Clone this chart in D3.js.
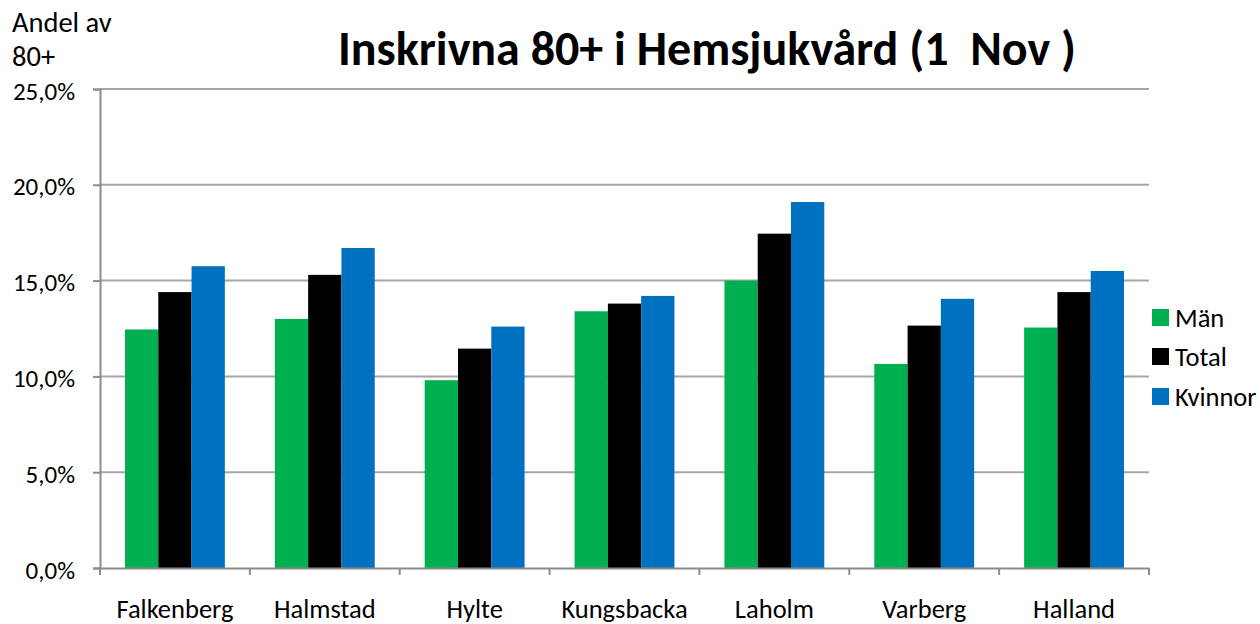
<!DOCTYPE html>
<html>
<head>
<meta charset="utf-8">
<script src="https://cdn.jsdelivr.net/npm/d3@7"></script>
<style>
  body { margin: 0; background: #fff; }
  text { font-family: Carlito, "Open Sans", "Liberation Sans", sans-serif; fill: #000; }
</style>
</head>
<body>
<script>
var categories = ["Falkenberg", "Halmstad", "Hylte", "Kungsbacka", "Laholm", "Varberg", "Halland"];
var seriesNames = ["Män", "Total", "Kvinnor"];
var man = [12.45, 13.0, 9.8, 13.4, 15.0, 10.65, 12.55];
var total = [14.4, 15.3, 11.45, 13.8, 17.45, 12.65, 14.4];
var kvinnor = [15.75, 16.7, 12.6, 14.2, 19.1, 14.05, 15.5];
var yTicks = [0, 5, 10, 15, 20, 25];
var colors = ["#00b050", "#000000", "#0070c0"];

var margin = {top: 89, left: 100},
    width = 1049,
    height = 479;

var svg = d3.select("body").append("svg")
    .attr("width", 1260)
    .attr("height", 624);

var g = svg.append("g")
    .attr("transform", "translate(" + margin.left + "," + margin.top + ")");

var x = d3.scaleBand().domain(categories).range([0, width]).paddingInner(0).paddingOuter(0);
var xs = d3.scaleBand().domain(seriesNames).range([25, x.bandwidth() - 25]);
var y = d3.scaleLinear().domain([0, 25]).range([height, 0]);

// gridlines
g.selectAll(".grid")
  .data(yTicks.filter(function(d) { return d > 0; }))
  .enter().append("line")
    .attr("x1", 0).attr("x2", width)
    .attr("y1", function(d) { return y(d); })
    .attr("y2", function(d) { return y(d); })
    .attr("stroke", "#a6a6a6")
    .attr("stroke-width", 2);

// bars
var data = categories.map(function(c, i) {
  return {cat: c, vals: [man[i], total[i], kvinnor[i]]};
});
var grp = g.selectAll(".grp").data(data).enter().append("g")
    .attr("transform", function(d) { return "translate(" + x(d.cat) + ",0)"; });
grp.selectAll("rect")
  .data(function(d) { return d.vals.map(function(v, j) { return {s: seriesNames[j], v: v, j: j}; }); })
  .enter().append("rect")
    .attr("x", function(d) { return xs(d.s); })
    .attr("width", xs.bandwidth())
    .attr("y", function(d) { return y(d.v); })
    .attr("height", function(d) { return height - y(d.v); })
    .attr("fill", function(d) { return colors[d.j]; });

// y axis
var yAxis = g.append("g")
    .call(d3.axisLeft(y).tickValues(yTicks).tickSize(7).tickPadding(18)
      .tickFormat(function(d) { return d.toFixed(1).replace(".", ",") + "%"; }));
yAxis.select(".domain").attr("stroke", "#8c8c8c").attr("stroke-width", 2);
yAxis.selectAll(".tick line").attr("stroke", "#8c8c8c").attr("stroke-width", 2);
yAxis.selectAll(".tick text").style("font-size", "25px").attr("dy", "0.4em");

// x axis
var xAxis = g.append("g")
    .attr("transform", "translate(0," + height + ")")
    .call(d3.axisBottom(x).tickSize(0).tickPadding(31));
xAxis.select(".domain").attr("stroke", "#8c8c8c").attr("stroke-width", 2);
xAxis.selectAll(".tick text").style("font-size", "26.5px");
xAxis.selectAll(".sep")
  .data(categories.concat([null]))
  .enter().append("line")
    .attr("x1", function(d, i) { return i * x.step(); })
    .attr("x2", function(d, i) { return i * x.step(); })
    .attr("y1", 0).attr("y2", 7)
    .attr("stroke", "#8c8c8c").attr("stroke-width", 2);

// title
svg.append("text")
    .text("Inskrivna 80+ i Hemsjukvård (1  Nov )")
    .attr("x", 707).attr("y", 65)
    .attr("text-anchor", "middle")
    .style("font-size", "48px")
    .style("font-weight", "bold")
    .style("white-space", "pre")
    .attr("xml:space", "preserve");

// y label
svg.append("text").text("Andel av").attr("x", 12).attr("y", 32).style("font-size", "28.5px");
svg.append("text").text("80+").attr("x", 12).attr("y", 66).style("font-size", "28.5px");

// legend
var leg = svg.append("g").attr("transform", "translate(1152,0)");
var legY = [318, 357, 397];
seriesNames.forEach(function(s, i) {
  leg.append("rect").attr("x", 0).attr("y", legY[i] - 9).attr("width", 17).attr("height", 17).attr("fill", colors[i]);
  leg.append("text").text(s).attr("x", 23).attr("y", legY[i]).attr("dy", "0.35em").style("font-size", "26.5px");
});
</script>
</body>
</html>
